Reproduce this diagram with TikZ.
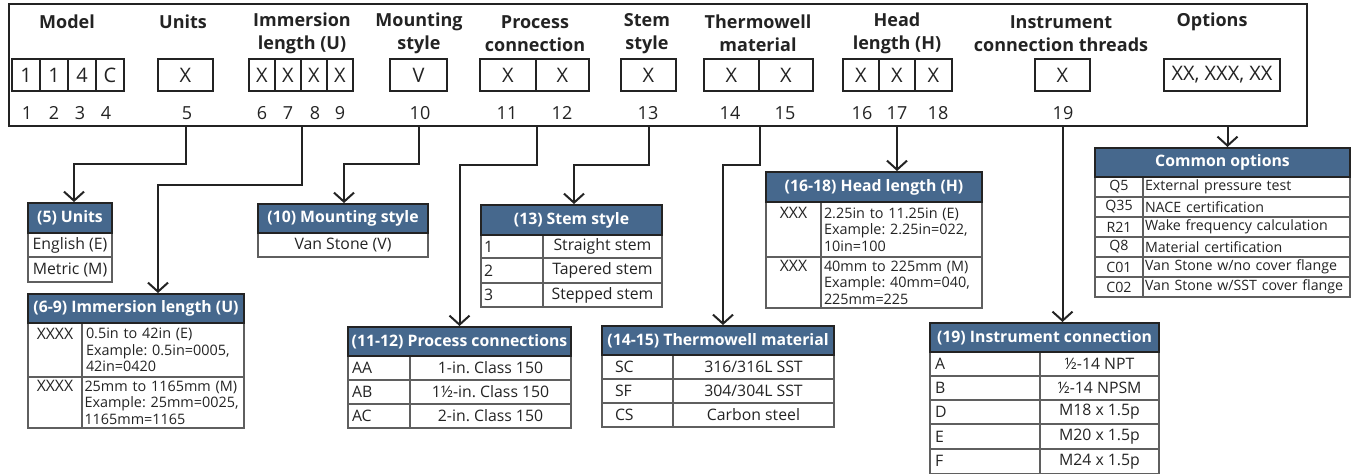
\documentclass[tikz,border=0pt]{standalone}
\usepackage{fontspec}
\setmainfont{Open Sans}
\usetikzlibrary{arrows.meta}
\definecolor{hdrblue}{RGB}{70,104,141}
\definecolor{ink}{RGB}{35,35,35}
\definecolor{cellline}{RGB}{95,95,95}
\newcommand\cellat[7]{\pgfmathsetmacro\bxw{#5-#3}\pgfmathsetmacro\bxh{#6-#4}%
  \node[#1,minimum width=\bxw pt,minimum height=\bxh pt] (#2) at ({(#3+#5)/2},{(#4+#6)/2}) {#7};}
\newcommand\lcellat[8]{\pgfmathsetmacro\bxw{#5-#3}\pgfmathsetmacro\bxh{#6-#4}\pgfmathsetmacro\bxt{#5-#3-2*#7}%
  \node[#1,minimum width=\bxw pt,minimum height=\bxh pt,text width=\bxt pt,align=left] (#2) at ({(#3+#5)/2},{(#4+#6)/2}) {#8};}
\frenchspacing
\begin{document}
\begin{tikzpicture}[x=1pt,y=-1pt,
  tbox/.style={draw=ink,line width=1.2pt,inner sep=0pt,text=ink,font=\fontsize{20}{22}\selectfont},
  lbl/.style={text=ink,align=center,inner sep=0pt,font=\bfseries\fontsize{18}{23}\selectfont},
  dig/.style={text=ink,inner sep=0pt,font=\fontsize{18}{21}\selectfont},
  hdr/.style={draw=ink,line width=2pt,fill=hdrblue,text=white,inner sep=0pt,font=\bfseries\fontsize{15.8}{18}\selectfont},
  cell/.style={draw=cellline,line width=1.2pt,inner sep=0pt,text=ink,font=\fontsize{15.8}{18}\selectfont},
  xcell/.style={draw=cellline,line width=1.2pt,inner sep=0pt,text=ink,align=center,font=\fontsize{15.8}{16.5}\selectfont},
  mcell/.style={draw=cellline,line width=1.2pt,inner sep=0pt,text=ink,font=\fontsize{14.4}{16.5}\selectfont},
  ocell/.style={draw=cellline,line width=1.2pt,inner sep=0pt,text=ink,font=\fontsize{14.2}{16}\selectfont},
  conn/.style={draw=ink,line width=2pt,-{Straight Barb[length=9pt,width=20pt]}}]
\useasboundingbox (0,0) rectangle (1354,475);
% ---------- top frame ----------
\node[draw=ink,line width=2pt,minimum width=1298pt,minimum height=122pt,inner sep=0pt] (frame) at (658,65) {};
% labels
\node[lbl] (lModel) at (67,22) {Model};
\node[lbl] (lUnits) at (183,22) {Units};
\node[lbl] (lImm) at (302,33.5) {Immersion\\length (U)};
\node[lbl] (lMount) at (419,33.5) {Mounting\\style};
\node[lbl] (lProc) at (535,33.5) {Process\\connection};
\node[lbl] (lStem) at (647,33.5) {Stem\\style};
\node[lbl] (lTherm) at (758,33.5) {Thermowell\\material};
\node[lbl] (lHead) at (897,33.5) {Head\\length (H)};
\node[lbl] (lInst) at (1061,33.5) {Instrument\\connection threads};
\node[lbl] (lOpt) at (1212,22) {Options};
% code boxes
\cellat{tbox}{b1}{12}{59}{40}{91}{1}
\cellat{tbox}{b2}{40}{59}{68}{91}{1}
\cellat{tbox}{b3}{68}{59}{96}{91}{4}
\cellat{tbox}{b4}{96}{59}{124}{91}{C}
\cellat{tbox}{b5}{158}{59}{213}{91}{X}
\cellat{tbox}{b6}{249}{59}{275}{91}{X}
\cellat{tbox}{b7}{275}{59}{301}{91}{X}
\cellat{tbox}{b8}{301}{59}{327}{91}{X}
\cellat{tbox}{b9}{327}{59}{353}{91}{X}
\cellat{tbox}{b10}{390}{59}{447}{91}{V}
\cellat{tbox}{b11}{480}{59}{536}{91}{X}
\cellat{tbox}{b12}{536}{59}{589}{91}{X}
\cellat{tbox}{b13}{621}{59}{676}{91}{X}
\cellat{tbox}{b14}{704}{59}{759}{91}{X}
\cellat{tbox}{b15}{759}{59}{813}{91}{X}
\cellat{tbox}{b16}{843}{59}{879}{91}{X}
\cellat{tbox}{b17}{879}{59}{915}{91}{X}
\cellat{tbox}{b18}{915}{59}{952}{91}{X}
\cellat{tbox}{b19}{1035}{59}{1090}{91}{X}
\cellat{tbox}{bOpt}{1164}{59}{1280}{91}{XX, XXX, XX}
% digits
\node[dig] (d1) at (27,113) {1};
\node[dig] (d2) at (54,113) {2};
\node[dig] (d3) at (80,113) {3};
\node[dig] (d4) at (106,113) {4};
\node[dig] (d5) at (187,113) {5};
\node[dig] (d6) at (262,113) {6};
\node[dig] (d7) at (288,113) {7};
\node[dig] (d8) at (315,113) {8};
\node[dig] (d9) at (340,113) {9};
\node[dig] (d10) at (420,113) {10};
\node[dig] (d11) at (507,113) {11};
\node[dig] (d12) at (562,113) {12};
\node[dig] (d13) at (648,113) {13};
\node[dig] (d14) at (730,113) {14};
\node[dig] (d15) at (785,113) {15};
\node[dig] (d16) at (862,113) {16};
\node[dig] (d17) at (897,113) {17};
\node[dig] (d18) at (938,113) {18};
\node[dig] (d19) at (1063,113) {19};
% ---------- (5) Units ----------
\cellat{cell}{u1}{28}{233}{112}{257}{English (E)}
\cellat{cell}{u2}{28}{257}{112}{282}{Metric (M)}
\cellat{hdr}{hUnits}{28}{203}{112}{233}{(5) Units}
% ---------- (10) Mounting ----------
\cellat{cell}{m1}{258}{233}{428}{257}{Van Stone (V)}
\cellat{hdr}{hMount}{258}{204}{428}{233}{(10) Mounting style}
% ---------- (6-9) Immersion ----------
\cellat{xcell}{i1a}{28}{323}{82}{377}{XXXX\\~\\~}
\lcellat{mcell}{i1b}{82}{323}{244}{377}{4}{0.5in to 42in (E)\\Example: 0.5in=0005,\\42in=0420}
\cellat{xcell}{i2a}{28}{377}{82}{428}{XXXX\\~\\~}
\lcellat{mcell}{i2b}{82}{377}{244}{428}{2.5}{25mm to 1165mm (M)\\Example: 25mm=0025,\\1165mm=1165}
\cellat{hdr}{hImm}{28}{294}{244}{323}{(6-9) Immersion length (U)}
% ---------- (11-12) Process ----------
\lcellat{cell}{p1a}{348}{356}{410}{380}{4}{AA}
\cellat{cell}{p1b}{410}{356}{571}{380}{1-in. Class 150}
\lcellat{cell}{p2a}{348}{380}{410}{404}{4}{AB}
\cellat{cell}{p2b}{410}{380}{571}{404}{1½-in. Class 150}
\lcellat{cell}{p3a}{348}{404}{410}{428}{4}{AC}
\cellat{cell}{p3b}{410}{404}{571}{428}{2-in. Class 150}
\cellat{hdr}{hProc}{348}{327}{571}{356}{(11-12) Process connections}
% ---------- (13) Stem ----------
\lcellat{cell}{s1a}{481}{235}{543}{258}{3}{1}
\cellat{cell}{s1b}{543}{235}{662}{258}{Straight stem}
\lcellat{cell}{s2a}{481}{258}{543}{283}{3}{2}
\cellat{cell}{s2b}{543}{258}{662}{283}{Tapered stem}
\lcellat{cell}{s3a}{481}{283}{543}{307}{3}{3}
\cellat{cell}{s3b}{543}{283}{662}{307}{Stepped stem}
\cellat{hdr}{hStem}{481}{205}{662}{235}{(13) Stem style}
% ---------- (14-15) Thermowell ----------
\lcellat{cell}{t1a}{602}{355}{673}{379}{13}{SC}
\cellat{cell}{t1b}{673}{355}{834}{379}{316/316L SST}
\lcellat{cell}{t2a}{602}{379}{673}{403}{13}{SF}
\cellat{cell}{t2b}{673}{379}{834}{403}{304/304L SST}
\lcellat{cell}{t3a}{602}{403}{673}{427}{13}{CS}
\cellat{cell}{t3b}{673}{403}{834}{427}{Carbon steel}
\cellat{hdr}{hTherm}{602}{326}{834}{355}{(14-15) Thermowell material}
% ---------- (16-18) Head ----------
\cellat{xcell}{h1a}{766}{202}{821}{257}{XXX\\~\\~}
\lcellat{mcell}{h1b}{821}{202}{982}{257}{3}{2.25in to 11.25in (E)\\Example: 2.25in=022,\\10in=100}
\cellat{xcell}{h2a}{766}{257}{821}{308}{XXX\\~\\~}
\lcellat{mcell}{h2b}{821}{257}{982}{308}{3}{40mm to 225mm (M)\\Example: 40mm=040,\\225mm=225}
\cellat{hdr}{hHead}{766}{172}{982}{202}{(16-18) Head length (H)}
% ---------- Common options ----------
\cellat{ocell}{o1a}{1095}{177}{1143}{197}{Q5}
\lcellat{ocell}{o1b}{1143}{177}{1350}{197}{2}{External pressure test}
\cellat{ocell}{o2a}{1095}{197}{1143}{217}{Q35}
\lcellat{ocell}{o2b}{1143}{197}{1350}{217}{2}{NACE certification}
\cellat{ocell}{o3a}{1095}{217}{1143}{237}{R21}
\lcellat{ocell}{o3b}{1143}{217}{1350}{237}{2}{Wake frequency calculation}
\cellat{ocell}{o4a}{1095}{237}{1143}{257}{Q8}
\lcellat{ocell}{o4b}{1143}{237}{1350}{257}{2}{Material certification}
\cellat{ocell}{o5a}{1095}{257}{1143}{277}{C01}
\lcellat{ocell}{o5b}{1143}{257}{1350}{277}{2}{Van Stone w/no cover flange}
\cellat{ocell}{o6a}{1095}{277}{1143}{297}{C02}
\lcellat{ocell}{o6b}{1143}{277}{1350}{297}{2}{Van Stone w/SST cover flange}
\cellat{hdr}{hOpt}{1095}{148}{1350}{177}{Common options}
% ---------- (19) Instrument ----------
\lcellat{cell}{n1a}{930}{352}{1040}{376}{5}{A}
\cellat{cell}{n1b}{1040}{352}{1159}{376}{½-14 NPT}
\lcellat{cell}{n2a}{930}{376}{1040}{400}{5}{B}
\cellat{cell}{n2b}{1040}{376}{1159}{400}{½-14 NPSM}
\lcellat{cell}{n3a}{930}{400}{1040}{424}{5}{D}
\cellat{cell}{n3b}{1040}{400}{1159}{424}{M18 x 1.5p}
\lcellat{cell}{n4a}{930}{424}{1040}{449}{5}{E}
\cellat{cell}{n4b}{1040}{424}{1159}{449}{M20 x 1.5p}
\lcellat{cell}{n5a}{930}{449}{1040}{473.5}{5}{F}
\cellat{cell}{n5b}{1040}{449}{1159}{473.5}{M24 x 1.5p}
\cellat{hdr}{hInst}{930}{323}{1159}{352}{(19) Instrument connection}
% ---------- connectors ----------
\draw[conn] (b5 |- frame.south) -- ++(0,37) -| ([xshift=4pt]hUnits.north);
\draw[conn] (b7.east |- frame.south) -- ++(0,58) -| ([xshift=22pt]hImm.north);
\draw[conn] (b10 |- frame.south) -- ++(0,37) -| ([xshift=1pt]hMount.north);
\draw[conn] (b11.east |- frame.south) -- ++(0,38) -| (hProc.north);
\draw[conn] (b13 |- frame.south) -- ++(0,38) -| ([xshift=2.5pt]hStem.north);
\draw[conn] (b14.east |- frame.south) -- ++(0,38) -| ([xshift=5pt]hTherm.north);
\draw[conn] (b17 |- frame.south) -- (b17 |- hHead.north);
\draw[conn] (b19 |- frame.south) -- (b19 |- hInst.north);
\draw[conn] ([xshift=5pt]hOpt.north |- frame.south) -- ([xshift=5pt]hOpt.north);
\end{tikzpicture}
\end{document}
